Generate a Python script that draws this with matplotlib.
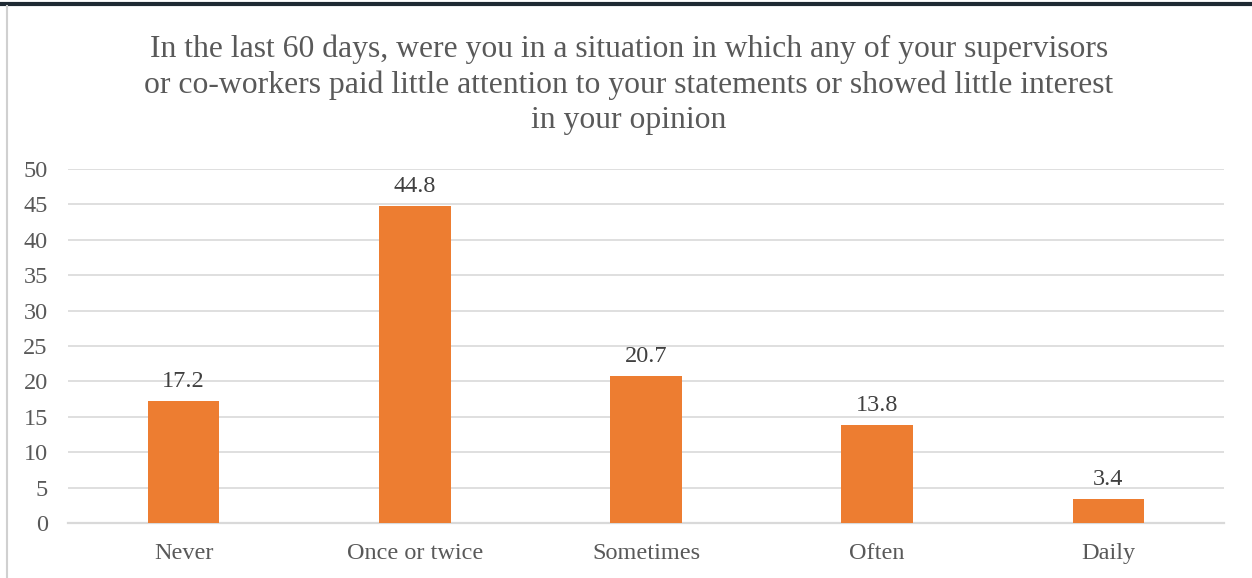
import matplotlib.pyplot as plt
from matplotlib.lines import Line2D

categories = ["Never", "Once or twice", "Sometimes", "Often", "Daily"]
percentages = [17.2, 44.8, 20.7, 13.8, 3.4]
y_ticks = [0, 5, 10, 15, 20, 25, 30, 35, 40, 45, 50]
title = ("In the last 60 days, were you in a situation in which any of your supervisors\n"
         "or co-workers paid little attention to your statements or showed little interest\n"
         "in your opinion")

BAR_COLOR = "#ED7D31"
GRID_COLOR = "#D9D9D9"
TEXT_COLOR = "#595959"

plt.rcParams["font.family"] = ["Liberation Serif", "DejaVu Serif"]

W, H = 1252, 578
fig = plt.figure(figsize=(W / 100, H / 100), dpi=100)
ax = fig.add_axes([68 / W, 55 / H, (1224 - 68) / W, (523 - 169) / H])

x = list(range(len(categories)))
bars = ax.bar(x, percentages, width=0.31, color=BAR_COLOR, zorder=3)
for xi, v in zip(x, percentages):
    ax.annotate(f"{v}", (xi, v), xytext=(0, 9), textcoords="offset pixels",
                ha="center", va="bottom", fontsize=17.5, color="#404040")

ax.set_xlim(-0.5, len(categories) - 0.5)
ax.set_ylim(0, 50)
ax.set_yticks(y_ticks)
ax.set_xticks(x)
ax.set_xticklabels(categories)
ax.tick_params(axis="both", length=0, labelsize=17.5, labelcolor=TEXT_COLOR)
ax.tick_params(axis="y", pad=14.5)
ax.tick_params(axis="x", pad=14.5)
ax.yaxis.grid(True, color=GRID_COLOR, linewidth=1.2, zorder=0)
for side in ["top", "right", "left"]:
    ax.spines[side].set_visible(False)
ax.spines["bottom"].set_color(GRID_COLOR)
ax.spines["bottom"].set_linewidth(1.6)

fig.text(629 / W, 1 - 85 / H, title, ha="center", va="center", fontsize=22.8,
         color=TEXT_COLOR, linespacing=1.27)

# frame edges around the chart
fig.add_artist(Line2D([0, 1], [1 - 3.5 / H, 1 - 3.5 / H], color="#1F2A33", linewidth=3))
fig.add_artist(Line2D([7 / W, 7 / W], [0, 1 - 6 / H], color="#D0D0D0", linewidth=1.5))

fig.savefig("out.png", dpi=100)
